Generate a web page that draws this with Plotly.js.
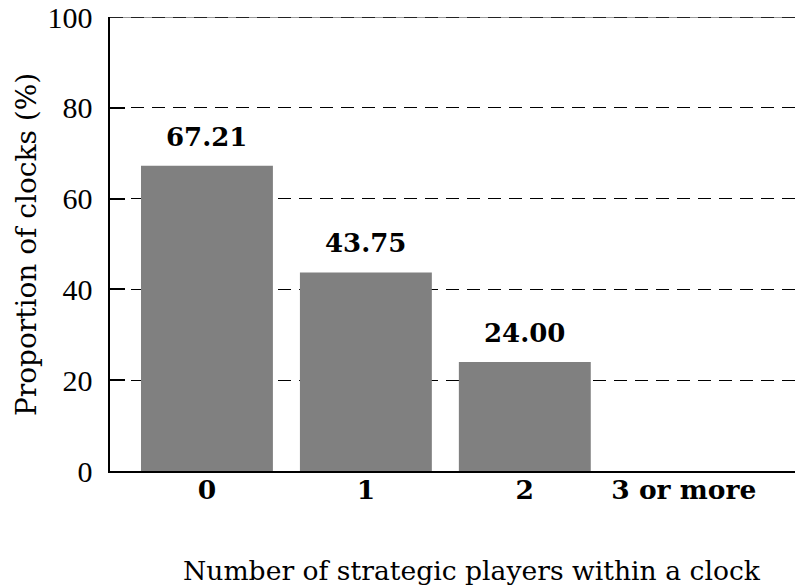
<!DOCTYPE html>
<html><head><meta charset="utf-8">
<script src="https://cdn.plot.ly/plotly-3.0.1.min.js"></script>
<style>body{margin:0;background:#fff}#c{width:795px;height:588px}</style>
</head><body><div id="c"></div>
<script>
const categories = ["0", "1", "2", "3 or more"];
const values = [67.21, 43.75, 24.00, 0];
const valueLabels = ["67.21", "43.75", "24.00", ""];
const yTicks = [0, 20, 40, 60, 80, 100];

const FONT = "DejaVu Serif, Liberation Serif, serif";
const NUMFONT = "Liberation Serif, DejaVu Serif, serif";
const ticktext = categories.map(c => "<b>" + c + "</b>");

const annotations = categories.map((c, i) => ({
  x: i, y: values[i], xref: "x", yref: "y",
  text: valueLabels[i] ? "<b>" + valueLabels[i] + "</b>" : "",
  showarrow: false, yanchor: "middle", yshift: 29,
  font: {family: FONT, size: 26, color: "#000"}
}));
annotations.push({
  xref: "paper", yref: "paper", x: 0.528, y: -0.22, yanchor: "middle",
  text: "Number of strategic players within a clock", showarrow: false,
  font: {family: FONT, size: 26.6, color: "#000"}
});
annotations.push({
  xref: "paper", yref: "paper", x: -0.121, y: 0.498, textangle: -90,
  xanchor: "center", yanchor: "middle",
  text: "Proportion of clocks (%)", showarrow: false,
  font: {family: FONT, size: 28, color: "#000"}
});

const data = [{
  type: "bar", x: categories.map((c, i) => i), y: values,
  marker: {color: "#808080", line: {width: 0}},
  width: 0.83, hoverinfo: "none"
}];

const layout = {
  width: 795, height: 588,
  margin: {l: 110, r: 0, t: 17, b: 117},
  paper_bgcolor: "#fff", plot_bgcolor: "#fff",
  showlegend: false,
  font: {family: FONT, size: 24, color: "#000"},
  xaxis: {
    range: [-0.61, 3.70], tickvals: [0, 1, 2, 3], ticktext: ticktext,
    showgrid: false, zeroline: false, showline: true, linecolor: "#000", linewidth: 2,
    ticks: "", ticklabelstandoff: -6,
    tickfont: {family: FONT, size: 26.5, color: "#000"}, fixedrange: true
  },
  yaxis: {
    range: [0, 100], tickvals: yTicks, ticktext: yTicks.map(String),
    showgrid: true, gridcolor: "#000", gridwidth: 1.3, griddash: "13px,8px",
    zeroline: false, showline: true, linecolor: "#000", linewidth: 2.5,
    ticks: "inside", ticklen: 15, tickwidth: 2, tickcolor: "#000",
    ticklabelstandoff: 9,
    tickfont: {family: NUMFONT, size: 30, color: "#000"}, fixedrange: true
  },
  shapes: [
    {type: "line", xref: "paper", yref: "y", x0: 0, x1: 1, y0: 100, y1: 100,
     line: {color: "#999", width: 2}, layer: "above"},
    {type: "line", xref: "paper", yref: "y", x0: 0, x1: 1, y0: 100, y1: 100,
     line: {color: "#222", width: 2, dash: "13px,8px"}, layer: "above"}
  ],
  annotations: annotations
};

Plotly.newPlot("c", data, layout, {displayModeBar: false, staticPlot: true});
</script></body></html>
